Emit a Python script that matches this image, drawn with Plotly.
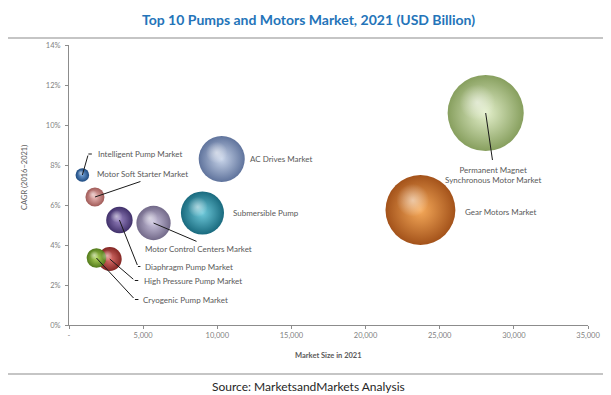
import plotly.graph_objects as go

# ---------------- data ----------------
markets = [
    "Intelligent Pump Market",
    "Motor Soft Starter Market",
    "Diaphragm Pump Market",
    "Motor Control Centers Market",
    "Submersible Pump",
    "AC Drives Market",
    "High Pressure Pump Market",
    "Cryogenic Pump Market",
    "Gear Motors Market",
    "Permanent Magnet<br>Synchronous Motor Market",
]
market_size = [900, 1750, 3400, 5700, 9000, 10300, 2750, 1850, 23700, 28100]
cagr = [7.5, 6.4, 5.25, 5.1, 5.6, 8.3, 3.3, 3.35, 5.75, 10.6]

x_tickvals = [0, 5000, 10000, 15000, 20000, 25000, 30000, 35000]
x_ticktext = ["-", "5,000", "10,000", "15,000", "20,000", "25,000", "30,000", "35,000"]
y_tickvals = [0, 2, 4, 6, 8, 10, 12, 14]
y_ticktext = ["0%", "2%", "4%", "6%", "8%", "10%", "12%", "14%"]

# ---------------- styles ----------------
center_colors = ["#6f9fd6", "#eebcba", "#9985c2", "#cdc6e0", "#6fcadb", "#c9d5ea",
                 "#e07470", "#b2d65e", "#f6aa5a", "#e4f0cc"]
edge_colors = ["#1d4a80", "#a05a57", "#40306a", "#726989", "#196a7e", "#5f739c",
               "#842724", "#527a1b", "#a3521a", "#879f5e"]

# label placement in pixels relative to the bubble centre:
# (text dx, text dy, xanchor, leader (dx, dy) or None, tick length)
label_layout = [
    (14, -21, "left", (6, -21), 5),
    (0, -23, "left", (47, -16), 0),
    (24, 46.5, "left", (18.5, 46.5), 4),
    (44.5, 25.5, "center", (44.5, 19), 0),
    (29, 0, "left", None, 0),
    (26, 0, "left", None, 0),
    (32, 21.5, "left", (25, 21.5), 5),
    (44.5, 41.5, "left", (38.5, 41.5), 5),
    (42.5, 1.5, "left", None, 0),
    (7.5, 62, "center", (7, 48.5), 0),
]

# page body has an 8px margin; target page coords are shifted by it
OFF = 8
W, H = 611 - OFF, 395 - OFF
L, T = 69 - OFF, 45 - OFF
pw, ph = 519, 280
R, B = W - L - pw, H - T - ph
X_RANGE = [0, 35000]
Y_RANGE = [0, 14]
SIZEREF = 9.7

LABEL_FONT = dict(family="Lato, 'Open Sans', sans-serif", size=8, color="#595959")
TICK_FONT = dict(family="Lato, 'Open Sans', sans-serif", size=7.5, color="#7f7f7f")

order = sorted(range(len(markets)), key=lambda i: -market_size[i])

fig = go.Figure()
# sphere bodies
fig.add_trace(go.Scatter(
    x=[market_size[i] for i in order],
    y=[cagr[i] for i in order],
    mode="markers",
    text=[markets[i] for i in order],
    hovertemplate="%{text}<br>%{x:,}<br>%{y}%<extra></extra>",
    marker=dict(
        size=[market_size[i] for i in order],
        sizemode="area",
        sizeref=SIZEREF,
        color=[edge_colors[i] for i in order],
        gradient=dict(type="radial", color=[center_colors[i] for i in order]),
        line=dict(width=0),
        opacity=1,
    ),
    showlegend=False,
))

# specular highlight (offset up-left of each sphere centre, converted from px)
x_per_px = (X_RANGE[1] - X_RANGE[0]) / pw
y_per_px = (Y_RANGE[1] - Y_RANGE[0]) / ph
hl_x, hl_y, hl_s = [], [], []
for i in order:
    r = (market_size[i] / (2 * SIZEREF)) ** 0.5
    hl_x.append(market_size[i] - 0.22 * r * x_per_px)
    hl_y.append(cagr[i] + 0.28 * r * y_per_px)
    hl_s.append(market_size[i] * 0.22)
fig.add_trace(go.Scatter(
    x=hl_x, y=hl_y, mode="markers", hoverinfo="skip",
    marker=dict(size=hl_s, sizemode="area", sizeref=SIZEREF,
                color="rgba(255,255,255,0)",
                gradient=dict(type="radial", color="rgba(255,255,255,0.75)"),
                line=dict(width=0)),
    showlegend=False,
))

annotations = []
for i, name in enumerate(markets):
    tdx, tdy, anchor, leader, tick = label_layout[i]
    annotations.append(dict(
        x=market_size[i], y=cagr[i], xref="x", yref="y",
        text=name, showarrow=False, font=LABEL_FONT,
        xanchor=anchor, yanchor="middle", align="center",
        xshift=tdx, yshift=-tdy,
    ))
    if leader is not None:
        annotations.append(dict(
            x=market_size[i], y=cagr[i], xref="x", yref="y",
            text="", showarrow=True, arrowhead=0, arrowwidth=1,
            arrowcolor="#1a1a1a", ax=leader[0], ay=leader[1],
            standoff=0, startstandoff=0,
        ))
        if tick:
            annotations.append(dict(
                x=market_size[i], y=cagr[i], xref="x", yref="y",
                text="", showarrow=True, arrowhead=0, arrowwidth=1,
                arrowcolor="#1a1a1a", ax=tick, ay=0,
                xshift=leader[0], yshift=-leader[1],
                standoff=0, startstandoff=0,
            ))

def px_x(p):
    return (p - OFF - L) / pw

def px_y(p):
    return (T + ph - (p - OFF)) / ph

annotations += [
    dict(text="<b>Top 10 Pumps and Motors Market, 2021 (USD Billion)</b>",
         xref="paper", yref="paper", x=px_x(308), y=px_y(19), showarrow=False,
         xanchor="center", yanchor="middle",
         font=dict(family="Lato, 'Open Sans', sans-serif", size=14, color="#2474b9")),
    dict(text="Source: MarketsandMarkets Analysis",
         xref="paper", yref="paper", x=px_x(308), y=px_y(386), showarrow=False,
         xanchor="center", yanchor="middle",
         font=dict(family="Lato, 'Open Sans', sans-serif", size=12, color="#262626")),
    dict(text="<b>Market Size in 2021</b>",
         xref="paper", yref="paper", x=px_x(328), y=px_y(355), showarrow=False,
         xanchor="center", yanchor="middle",
         font=dict(family="Lato, 'Open Sans', sans-serif", size=7.5, color="#595959")),
    dict(text="CAGR (2016–2021)", textangle=-90,
         xref="paper", yref="paper", x=px_x(24), y=px_y(178), showarrow=False,
         xanchor="center", yanchor="middle",
         font=dict(family="Lato, 'Open Sans', sans-serif", size=7.5, color="#595959")),
]

fig.update_layout(
    width=W, height=H,
    margin=dict(l=L, r=R, t=T, b=B),
    paper_bgcolor="white", plot_bgcolor="white",
    xaxis=dict(range=X_RANGE, tickmode="array", tickvals=x_tickvals, ticktext=x_ticktext,
               showgrid=False, zeroline=False, showline=True, linecolor="#8c8c8c",
               linewidth=1, ticks="outside", ticklen=3, tickcolor="#8c8c8c",
               tickfont=TICK_FONT, fixedrange=True),
    yaxis=dict(range=Y_RANGE, tickmode="array", tickvals=y_tickvals, ticktext=y_ticktext,
               showgrid=False, zeroline=False, showline=True, linecolor="#8c8c8c",
               linewidth=1, ticks="outside", ticklen=3, tickcolor="#8c8c8c",
               tickfont=TICK_FONT, ticklabelstandoff=3, fixedrange=True),
    annotations=annotations,
    shapes=[dict(type="rect", xref="paper", yref="paper",
                 x0=px_x(6), x1=px_x(608), y0=px_y(374), y1=px_y(38),
                 line=dict(color="#8c8c8c", width=1.2), layer="below")],
)

fig.write_html("out.html")
